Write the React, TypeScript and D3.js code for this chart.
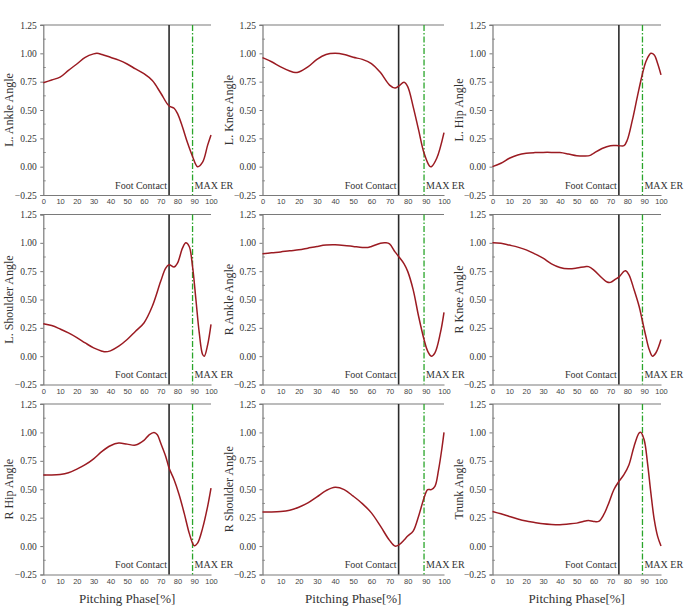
import React, { useEffect, useRef } from 'react';
import * as d3 from 'd3';

// pitching phase markers (%)
const footContact = 75;
const maxER = 89;

const yTicks = [-0.25, 0, 0.25, 0.5, 0.75, 1, 1.25];
const xTicks = [0, 10, 20, 30, 40, 50, 60, 70, 80, 90, 100];

// normalized joint angles
const lAnklePhase = [0, 5, 10, 15, 20, 25, 30, 32, 35, 40, 45, 50, 55, 60, 65, 70, 75, 78, 80, 83, 86, 89, 92, 95, 98, 100];
const lAnkleAngle = [0.74, 0.765, 0.79, 0.85, 0.906, 0.965, 0.995, 1.0, 0.99, 0.965, 0.94, 0.906, 0.862, 0.82, 0.76, 0.65, 0.535, 0.515, 0.47, 0.35, 0.21, 0.09, 0.0, 0.04, 0.19, 0.28];

const lKneePhase = [0, 5, 10, 15, 18, 20, 25, 30, 35, 40, 45, 50, 55, 60, 65, 70, 73, 75, 78, 80, 83, 86, 89, 92, 93, 96, 100];
const lKneeAngle = [0.962, 0.926, 0.88, 0.844, 0.83, 0.835, 0.88, 0.947, 0.99, 1.0, 0.99, 0.965, 0.947, 0.91, 0.83, 0.72, 0.694, 0.71, 0.744, 0.706, 0.53, 0.324, 0.12, 0.006, 0.0, 0.074, 0.3];

const lHipPhase = [0, 5, 10, 15, 20, 25, 30, 35, 40, 45, 50, 55, 58, 60, 65, 70, 75, 78, 80, 83, 86, 89, 91, 93, 94, 96, 98, 100];
const lHipAngle = [0.0, 0.03, 0.074, 0.103, 0.118, 0.124, 0.126, 0.126, 0.124, 0.112, 0.097, 0.094, 0.1, 0.118, 0.16, 0.185, 0.185, 0.185, 0.235, 0.41, 0.62, 0.82, 0.926, 0.985, 1.0, 0.985, 0.91, 0.81];

const lShoulderPhase = [0, 5, 10, 15, 20, 25, 30, 35, 37, 40, 45, 50, 55, 60, 65, 70, 73, 75, 78, 80, 83, 85, 87, 89, 91, 93, 95, 96, 98, 100];
const lShoulderAngle = [0.286, 0.27, 0.24, 0.205, 0.164, 0.117, 0.073, 0.044, 0.038, 0.047, 0.088, 0.147, 0.22, 0.293, 0.44, 0.66, 0.777, 0.806, 0.786, 0.82, 0.953, 1.0, 0.968, 0.79, 0.5, 0.205, 0.015, 0.0, 0.1, 0.28];

const rAnklePhase = [0, 5, 10, 15, 20, 25, 30, 35, 40, 45, 50, 55, 58, 60, 65, 68, 70, 73, 75, 78, 80, 83, 86, 89, 91, 93, 95, 98, 100];
const rAnkleAngle = [0.903, 0.912, 0.92, 0.93, 0.938, 0.953, 0.968, 0.98, 0.982, 0.977, 0.968, 0.959, 0.959, 0.968, 0.997, 1.0, 0.99, 0.92, 0.88, 0.815, 0.748, 0.587, 0.352, 0.147, 0.044, 0.0, 0.03, 0.205, 0.387];

const rKneePhase = [0, 5, 10, 15, 20, 25, 30, 35, 40, 45, 50, 55, 57, 60, 65, 68, 70, 73, 75, 78, 79, 81, 84, 87, 89, 91, 93, 95, 97, 100];
const rKneeAngle = [1.0, 0.997, 0.98, 0.962, 0.938, 0.903, 0.865, 0.815, 0.783, 0.771, 0.777, 0.79, 0.79, 0.762, 0.69, 0.654, 0.651, 0.68, 0.698, 0.748, 0.754, 0.718, 0.587, 0.44, 0.308, 0.176, 0.059, 0.0, 0.03, 0.147];

const rHipPhase = [0, 5, 10, 15, 20, 25, 30, 35, 40, 45, 50, 55, 60, 63, 66, 68, 70, 73, 75, 78, 81, 84, 87, 89, 90, 92, 95, 98, 100];
const rHipAngle = [0.625, 0.625, 0.63, 0.645, 0.677, 0.716, 0.768, 0.833, 0.883, 0.906, 0.897, 0.889, 0.93, 0.977, 1.0, 0.98, 0.906, 0.789, 0.686, 0.584, 0.452, 0.29, 0.114, 0.026, 0.003, 0.026, 0.158, 0.35, 0.51];

const rShoulderPhase = [0, 5, 10, 15, 20, 25, 30, 35, 40, 45, 50, 55, 60, 65, 70, 73, 75, 78, 80, 83, 86, 89, 91, 93, 95, 97, 99, 100];
const rShoulderAngle = [0.3, 0.3, 0.304, 0.316, 0.342, 0.38, 0.433, 0.488, 0.517, 0.497, 0.439, 0.374, 0.292, 0.175, 0.05, 0.0, 0.009, 0.053, 0.088, 0.132, 0.263, 0.424, 0.497, 0.497, 0.526, 0.67, 0.877, 1.0];

const trunkPhase = [0, 5, 10, 15, 20, 25, 30, 35, 40, 45, 50, 55, 57, 60, 63, 66, 69, 72, 75, 78, 81, 84, 87, 88, 90, 92, 94, 96, 98, 100];
const trunkAngle = [0.305, 0.284, 0.261, 0.238, 0.22, 0.208, 0.196, 0.19, 0.188, 0.194, 0.202, 0.22, 0.226, 0.217, 0.217, 0.276, 0.378, 0.496, 0.569, 0.628, 0.716, 0.877, 0.994, 1.0, 0.935, 0.73, 0.466, 0.232, 0.085, 0.0];

const panelTitles = [
  'L. Ankle Angle', 'L. Knee Angle', 'L. Hip Angle',
  'L. Shoulder Angle', 'R Ankle Angle', 'R Knee Angle',
  'R Hip Angle', 'R Shoulder Angle', 'Trunk Angle',
];
const panelPhases = [lAnklePhase, lKneePhase, lHipPhase, lShoulderPhase, rAnklePhase, rKneePhase, rHipPhase, rShoulderPhase, trunkPhase];
const panelAngles = [lAnkleAngle, lKneeAngle, lHipAngle, lShoulderAngle, rAnkleAngle, rKneeAngle, rHipAngle, rShoulderAngle, trunkAngle];

const W = 685;
const H = 610;
const colX = [[43.3, 211], [262.5, 444], [492.5, 661]];
const rowY = [[25, 195], [214.5, 384.5], [404, 574.5]];

const serif = '"Liberation Serif", "Times New Roman", serif';
const sans = '"Liberation Sans", Arial, sans-serif';

const App = () => {
  const svgRef = useRef<SVGSVGElement>(null);

  useEffect(() => {
    const svg = d3.select(svgRef.current);
    svg.selectAll('*').remove();

    svg.append('rect').attr('width', W).attr('height', H).attr('fill', '#fff');

    panelTitles.forEach((title, i) => {
      const col = i % 3;
      const row = Math.floor(i / 3);
      const [x0, x1] = colX[col];
      const [y0, y1] = rowY[row];

      const x = d3.scaleLinear().domain([0, 100]).range([x0, x1]);
      const y = d3.scaleLinear().domain([-0.25, 1.25]).range([y1, y0]);

      const g = svg.append('g');

      // top frame line
      g.append('line')
        .attr('x1', x0 - 3).attr('x2', x1)
        .attr('y1', y(1.25)).attr('y2', y(1.25))
        .attr('stroke', '#7a7a7a').attr('stroke-width', 1.2);

      // left axis
      const yAxis = g.append('g')
        .attr('transform', `translate(${x0},0)`)
        .call(d3.axisLeft(y).tickValues(yTicks).tickSize(3).tickPadding(3.5).tickFormat(d3.format('.2f')));
      yAxis.select('.domain').attr('stroke', '#7a7a7a').attr('stroke-width', 1.2);
      yAxis.selectAll('.tick line').attr('stroke', '#7a7a7a');
      yAxis.selectAll('text')
        .style('font-family', serif).style('font-size', '9.5px').attr('fill', '#333');

      // minor ticks
      g.selectAll('.minor')
        .data(d3.range(-0.125, 1.25, 0.25))
        .enter().append('line')
        .attr('x1', x0).attr('x2', x0 + 2.5)
        .attr('y1', d => y(d)).attr('y2', d => y(d))
        .attr('stroke', '#7a7a7a').attr('stroke-width', 0.8);

      // bottom axis
      const xAxis = g.append('g')
        .attr('transform', `translate(0,${y1})`)
        .call(d3.axisBottom(x).tickValues(xTicks).tickSize(0).tickPadding(4));
      xAxis.select('.domain').attr('stroke', '#7a7a7a').attr('stroke-width', 1.2);
      xAxis.selectAll('text')
        .style('font-family', sans).style('font-size', '7.5px').attr('fill', '#444');

      // foot contact
      g.append('line')
        .attr('x1', x(footContact)).attr('x2', x(footContact))
        .attr('y1', y0).attr('y2', y1)
        .attr('stroke', '#2b2b2b').attr('stroke-width', 1.6);

      // MAX ER
      g.append('line')
        .attr('x1', x(maxER)).attr('x2', x(maxER))
        .attr('y1', y0).attr('y2', y1)
        .attr('stroke', '#2aa52a').attr('stroke-width', 1.3)
        .attr('stroke-dasharray', '6 2 1.5 2');

      g.append('text')
        .attr('x', x(footContact) - 2).attr('y', y1 - 6.5)
        .attr('text-anchor', 'end')
        .style('font-family', serif).style('font-size', '10px').attr('fill', '#333')
        .text('Foot Contact');

      g.append('text')
        .attr('x', x(maxER) + 2).attr('y', y1 - 6.5)
        .style('font-family', serif).style('font-size', '10px').attr('fill', '#333')
        .text('MAX ER');

      // y title
      g.append('text')
        .attr('transform', `translate(${x0 - 30},${(y0 + y1) / 2}) rotate(-90)`)
        .attr('text-anchor', 'middle')
        .style('font-family', serif).style('font-size', '12px').attr('fill', '#333')
        .text(title);

      if (row === 2) {
        g.append('text')
          .attr('x', (x0 + x1) / 2).attr('y', 602.5)
          .attr('text-anchor', 'middle')
          .style('font-family', serif).style('font-size', '13px').attr('fill', '#333')
          .text('Pitching Phase[%]');
      }

      // curve
      const pts = panelPhases[i].map((p, k) => [p, panelAngles[i][k]] as [number, number]);
      const line = d3.line<[number, number]>()
        .x(d => x(d[0]))
        .y(d => y(d[1]))
        .curve(d3.curveCatmullRom.alpha(0.5));
      g.append('path')
        .datum(pts)
        .attr('d', line)
        .attr('fill', 'none')
        .attr('stroke', '#9b1b22')
        .attr('stroke-width', 1.5);
    });
  }, []);

  return (
    <svg
      ref={svgRef}
      width={W}
      height={H}
      style={{ position: 'absolute', left: 0, top: 0, display: 'block' }}
    />
  );
};

export default App;
